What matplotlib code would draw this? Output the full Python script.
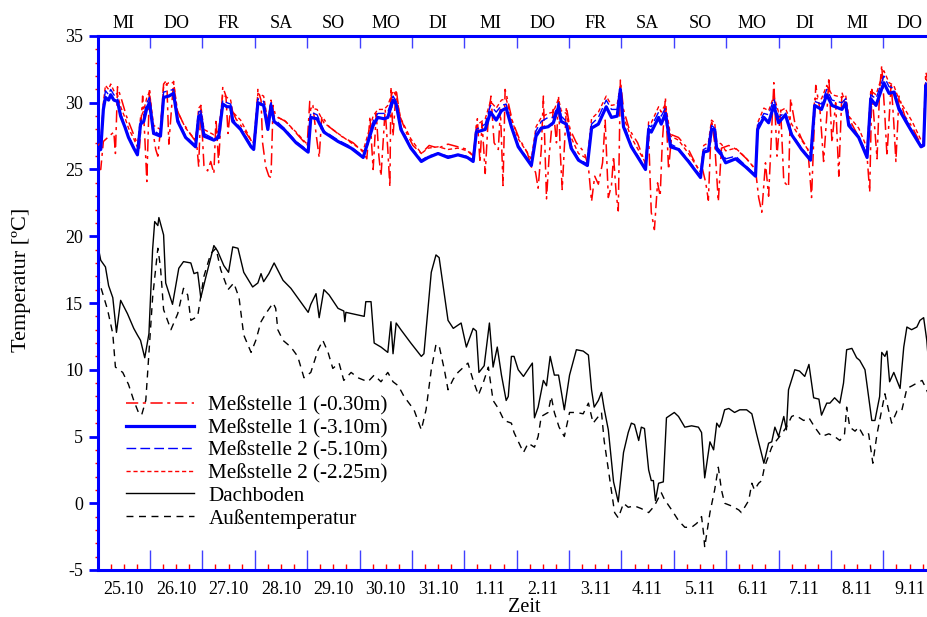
import numpy as np
import matplotlib
matplotlib.use("Agg")
import matplotlib.pyplot as plt
from matplotlib.ticker import FixedLocator, FuncFormatter, NullFormatter, MultipleLocator, FixedFormatter

plt.rcParams['font.family'] = ['Liberation Serif', 'DejaVu Serif']
plt.rcParams['axes.unicode_minus'] = False

# x axis: days since 25.10. 00:00
days = ['25.10', '26.10', '27.10', '28.10', '29.10', '30.10', '31.10', '1.11',
        '2.11', '3.11', '4.11', '5.11', '6.11', '7.11', '8.11', '9.11']
weekdays = ['MI', 'DO', 'FR', 'SA', 'SO', 'MO', 'DI', 'MI',
            'DO', 'FR', 'SA', 'SO', 'MO', 'DI', 'MI', 'DO']

# soil probes (shared time base)
t_soil = [0.00, 0.06, 0.11, 0.15, 0.21, 0.25, 0.31, 0.38, 0.44, 0.52, 0.59, 0.69, 0.76, 0.82, 0.88, 0.94,
          0.99, 1.07, 1.20, 1.26, 1.36, 1.45, 1.53, 1.68, 1.87, 1.93, 1.97, 2.03, 2.22, 2.31, 2.39, 2.47,
          2.54, 2.58, 2.73, 2.93, 2.98, 3.06, 3.17, 3.25, 3.31, 3.37, 3.56, 3.79, 4.02, 4.07, 4.19, 4.32,
          4.59, 4.84, 5.07, 5.26, 5.35, 5.47, 5.54, 5.64, 5.70, 5.79, 5.98, 6.18, 6.31, 6.50, 6.69, 6.88,
          7.06, 7.17, 7.23, 7.40, 7.50, 7.61, 7.71, 7.80, 7.90, 8.03, 8.28, 8.37, 8.47, 8.60, 8.70, 8.80,
          8.85, 8.95, 9.04, 9.18, 9.35, 9.43, 9.56, 9.71, 9.81, 9.92, 9.98, 10.04, 10.19, 10.46, 10.52,
          10.57, 10.71, 10.76, 10.84, 10.94, 11.09, 11.28, 11.51, 11.57, 11.66, 11.72, 11.78, 11.82, 11.91,
          11.99, 12.18, 12.37, 12.56, 12.60, 12.72, 12.81, 12.91, 13.00, 13.13, 13.25, 13.44, 13.61, 13.69,
          13.82, 13.92, 14.02, 14.21, 14.28, 14.34, 14.53, 14.69, 14.76, 14.86, 15.01, 15.11, 15.20, 15.30,
          15.43, 15.55, 15.72, 15.77, 15.81, 15.87]

m1_310 = [26.4, 26.5, 29.5, 30.4, 30.2, 30.6, 30.2, 30.1, 29.0, 28.2, 27.4, 26.6, 26.1, 28.4, 28.6, 29.6,
          30.0, 27.7, 27.5, 30.4, 30.5, 30.7, 28.6, 27.4, 26.7, 29.0, 29.1, 27.5, 27.2, 27.4, 29.9, 29.7,
          29.7, 28.6, 28.0, 26.7, 26.5, 30.0, 29.8, 28.0, 29.8, 28.6, 28.0, 27.0, 26.3, 28.9, 28.8, 27.8,
          27.1, 26.6, 25.9, 28.3, 28.9, 28.8, 28.9, 30.2, 29.9, 28.0, 26.6, 25.6, 25.9, 26.2, 25.9, 26.1,
          25.9, 25.6, 27.8, 28.0, 29.3, 28.7, 29.4, 29.6, 28.2, 26.7, 25.3, 27.5, 28.1, 28.2, 28.5, 29.7,
          28.6, 28.4, 26.6, 25.7, 25.3, 28.1, 28.4, 29.7, 28.9, 29.0, 31.0, 28.2, 26.7, 25.0, 28.0,
          27.8, 28.9, 28.4, 29.2, 26.7, 26.5, 25.6, 24.4, 26.3, 26.4, 28.0, 28.0, 26.5, 26.1,
          25.5, 25.8, 25.2, 24.5, 28.0, 28.9, 28.5, 29.8, 28.5, 29.1, 27.6, 26.5, 25.7, 29.8,
          29.5, 30.6, 29.8, 29.5, 30.0, 28.3, 27.4, 25.9, 30.3, 29.8, 31.5, 30.7, 30.8, 29.5,
          28.6, 27.8, 26.7, 26.8, 31.3, 30.6]

m2_510 = [26.5, 26.6, 29.8, 30.9, 30.6, 31.0, 30.6, 30.3, 29.2, 28.3, 27.5, 26.7, 26.2, 28.6, 29.0, 30.0,
          30.4, 27.9, 27.6, 30.8, 30.9, 31.0, 28.8, 27.5, 26.8, 29.3, 29.4, 27.7, 27.3, 27.6, 30.2, 30.0,
          29.9, 28.8, 28.1, 26.8, 26.6, 30.3, 30.1, 28.3, 30.0, 28.8, 28.1, 27.1, 26.4, 29.3, 29.1, 27.9,
          27.2, 26.7, 26.0, 28.6, 29.2, 29.2, 29.3, 30.5, 30.1, 28.2, 26.7, 25.7, 26.0, 26.2, 26.0, 26.1,
          26.0, 25.7, 28.0, 28.4, 29.8, 29.3, 29.8, 29.9, 28.3, 26.8, 25.4, 27.9, 28.6, 28.9, 28.9, 30.0,
          29.0, 28.6, 26.8, 25.8, 25.4, 28.4, 28.9, 30.2, 29.5, 29.5, 31.1, 28.5, 26.8, 25.1, 28.3,
          28.2, 29.3, 29.0, 29.6, 26.9, 26.6, 25.7, 24.5, 26.5, 26.7, 28.3, 28.1, 26.7, 26.3,
          25.8, 26.0, 25.3, 24.6, 28.3, 29.2, 29.1, 30.3, 28.9, 29.3, 27.7, 26.6, 25.8, 30.1,
          29.9, 31.0, 30.2, 30.0, 30.3, 28.5, 27.5, 26.1, 30.6, 30.3, 32.0, 31.2, 31.1, 29.7,
          28.8, 27.9, 26.8, 26.9, 31.5, 31.0]

m2_225 = [26.8, 27.0, 30.0, 31.3, 31.0, 31.4, 30.9, 30.6, 29.7, 28.9, 28.1, 27.3, 26.7, 28.9, 29.4, 30.4,
          30.8, 28.3, 28.0, 31.2, 31.5, 31.5, 29.3, 28.1, 27.2, 29.6, 29.8, 28.0, 27.6, 27.9, 30.6, 30.4,
          30.2, 29.3, 28.7, 27.2, 27.0, 30.7, 30.5, 28.6, 30.2, 29.0, 28.7, 27.8, 26.8, 29.6, 29.5, 28.5,
          27.7, 27.0, 26.4, 29.0, 29.5, 29.5, 29.8, 30.9, 30.5, 28.8, 27.3, 26.2, 26.6, 26.7, 26.5, 26.6,
          26.4, 26.0, 28.3, 28.8, 30.1, 29.6, 30.2, 30.3, 28.8, 27.3, 25.8, 28.2, 28.9, 29.2, 29.3, 30.3,
          29.4, 29.2, 27.4, 26.2, 25.8, 28.8, 29.3, 30.5, 29.8, 29.9, 31.3, 28.9, 27.4, 25.5, 28.6,
          28.5, 29.7, 29.3, 29.9, 27.5, 27.2, 26.2, 24.8, 26.8, 27.0, 28.7, 28.5, 27.1, 26.9,
          26.4, 26.6, 25.9, 25.0, 28.5, 29.6, 29.4, 30.5, 29.3, 29.6, 28.4, 27.2, 26.2, 30.3,
          30.3, 31.3, 30.6, 30.4, 30.6, 29.0, 28.1, 26.6, 30.9, 30.6, 32.4, 31.5, 31.3, 30.2,
          29.4, 28.6, 27.2, 27.1, 31.8, 31.4]

# shallow probe, Meßstelle 1 (-0.30m)
t_m1_030 = [0.00, 0.06, 0.11, 0.25, 0.31, 0.34, 0.38, 0.46, 0.55, 0.65, 0.75, 0.80, 0.86, 0.90, 0.94, 0.99,
            1.05, 1.11, 1.15, 1.20, 1.26, 1.32, 1.36, 1.41, 1.45, 1.51, 1.63, 1.78, 1.89, 1.93, 1.97, 2.03,
            2.10, 2.16, 2.22, 2.26, 2.31, 2.39, 2.45, 2.49, 2.54, 2.64, 2.79, 2.96, 3.02, 3.06, 3.12, 3.15,
            3.21, 3.27, 3.31, 3.35, 3.40, 3.59, 3.82, 4.00, 4.05, 4.11, 4.17, 4.23, 4.28, 4.42, 4.65, 4.88,
            5.07, 5.14, 5.20, 5.26, 5.32, 5.37, 5.41, 5.49, 5.54, 5.58, 5.60, 5.64, 5.70, 5.77, 5.89, 6.02,
            6.18, 6.33, 6.50, 6.69, 6.88, 7.06, 7.17, 7.25, 7.30, 7.34, 7.40, 7.46, 7.51, 7.57, 7.65, 7.69,
            7.74, 7.78, 7.84, 7.92, 8.05, 8.20, 8.28, 8.36, 8.41, 8.47, 8.51, 8.57, 8.62, 8.70, 8.76, 8.80,
            8.83, 8.87, 8.95, 9.02, 9.14, 9.29, 9.37, 9.43, 9.49, 9.56, 9.64, 9.69, 9.75, 9.81, 9.85, 9.90,
            9.94, 9.98, 10.04, 10.15, 10.31, 10.46, 10.52, 10.57, 10.63, 10.69, 10.74, 10.78, 10.84, 10.90,
            10.96, 11.09, 11.28, 11.47, 11.55, 11.61, 11.66, 11.72, 11.78, 11.85, 11.91, 12.05, 12.20, 12.39,
            12.56, 12.62, 12.68, 12.75, 12.81, 12.87, 12.91, 12.97, 13.04, 13.10, 13.19, 13.23, 13.31, 13.44,
            13.56, 13.63, 13.71, 13.79, 13.86, 13.92, 13.96, 14.02, 14.09, 14.15, 14.21, 14.30, 14.40, 14.55,
            14.69, 14.74, 14.78, 14.88, 14.93, 14.97, 15.03, 15.07, 15.15, 15.20, 15.24, 15.30, 15.41, 15.55,
            15.70, 15.76, 15.81, 15.87]
m1_030 = [25.0, 25.0, 27.1, 27.6, 27.8, 26.2, 31.2, 30.2, 29.0, 28.0, 27.0, 26.6, 30.5, 27.5, 24.1, 31.1,
          28.0, 26.5, 26.0, 28.0, 31.4, 31.7, 26.9, 29.5, 31.6, 29.5, 28.5, 27.6, 27.0, 25.2, 29.8, 25.3,
          24.9, 25.6, 24.7, 28.8, 25.5, 31.2, 30.5, 27.7, 29.7, 28.8, 28.0, 27.0, 27.5, 31.0, 30.2, 27.0,
          25.2, 24.5, 24.4, 29.8, 29.0, 28.6, 27.6, 26.8, 30.1, 29.8, 27.7, 25.9, 29.0, 28.2, 27.5, 27.0,
          26.3, 25.8, 29.0, 25.0, 29.2, 26.0, 24.5, 29.5, 26.5, 23.7, 31.2, 27.5, 31.0, 29.0, 27.8, 26.8,
          26.2, 26.8, 26.6, 26.9, 26.7, 26.5, 26.0, 28.8, 25.5, 28.5, 24.7, 29.0, 30.5, 27.0, 26.5, 29.5,
          23.8, 31.0, 30.0, 28.6, 27.3, 26.3, 25.2, 24.8, 23.6, 26.5, 30.5, 22.8, 26.0, 29.5, 27.0, 30.5,
          26.5, 23.5, 29.7, 28.0, 27.0, 26.3, 25.2, 22.6, 24.5, 23.9, 25.5, 28.7, 22.9, 23.8, 26.0, 23.2,
          21.9, 31.7, 29.5, 28.0, 27.0, 25.4, 27.5, 21.8, 20.5, 24.0, 23.0, 27.0, 30.4, 25.0,
          27.6, 27.4, 26.5, 25.0, 25.0, 24.0, 22.7, 28.7, 27.0, 22.6, 26.6, 26.8, 26.5, 25.8,
          25.0, 22.9, 21.8, 25.5, 23.0, 28.0, 31.5, 26.0, 29.5, 24.1, 23.7, 30.3, 28.5, 27.3,
          26.5, 22.9, 31.3, 29.5, 25.6, 29.0, 31.9, 27.0, 30.0, 24.5, 30.8, 29.3, 28.4, 27.3,
          26.0, 23.3, 31.0, 25.8, 31.0, 32.8, 29.0, 26.0, 31.5, 28.5, 25.6, 30.5, 29.0, 28.2,
          27.0, 26.6, 32.3, 31.5]

# attic
t_dach = [0.00, 0.02, 0.06, 0.15, 0.21, 0.29, 0.36, 0.44, 0.57, 0.69, 0.76, 0.82, 0.90, 0.98, 1.05, 1.09,
          1.15, 1.17, 1.26, 1.30, 1.43, 1.55, 1.64, 1.78, 1.84, 1.91, 1.97, 2.07, 2.22, 2.29, 2.41, 2.50,
          2.58, 2.68, 2.79, 2.96, 3.06, 3.12, 3.17, 3.27, 3.37, 3.54, 3.69, 4.02, 4.07, 4.17, 4.23, 4.32,
          4.42, 4.59, 4.70, 4.72, 4.74, 4.97, 5.09, 5.12, 5.22, 5.28, 5.41, 5.54, 5.60, 5.64, 5.70, 5.79,
          5.98, 6.18, 6.23, 6.37, 6.46, 6.52, 6.69, 6.79, 6.94, 7.04, 7.17, 7.23, 7.28, 7.38, 7.48, 7.55,
          7.63, 7.71, 7.80, 7.84, 7.90, 7.95, 8.03, 8.13, 8.18, 8.30, 8.34, 8.41, 8.51, 8.57, 8.64, 8.72,
          8.80, 8.91, 9.01, 9.14, 9.27, 9.37, 9.43, 9.48, 9.56, 9.62, 9.67, 9.75, 9.85, 9.94, 10.04, 10.13,
          10.19, 10.25, 10.33, 10.38, 10.44, 10.52, 10.57, 10.61, 10.65, 10.71, 10.80, 10.86, 11.01, 11.09,
          11.21, 11.34, 11.47, 11.53, 11.59, 11.69, 11.76, 11.82, 11.87, 11.91, 11.97, 12.05, 12.16, 12.26,
          12.39, 12.49, 12.58, 12.72, 12.81, 12.87, 12.93, 13.00, 13.10, 13.15, 13.19, 13.31, 13.40, 13.50,
          13.58, 13.67, 13.77, 13.82, 13.92, 13.98, 14.07, 14.17, 14.24, 14.30, 14.40, 14.49, 14.55, 14.65,
          14.78, 14.84, 14.93, 14.97, 15.03, 15.07, 15.12, 15.20, 15.32, 15.39, 15.45, 15.54, 15.64, 15.70,
          15.77, 15.83, 15.87]
dach = [21.5, 19.0, 18.2, 17.7, 16.3, 15.4, 12.8, 15.2, 14.2, 13.1, 12.6, 12.2, 10.9, 12.7, 19.0, 21.1,
        20.8, 21.4, 20.1, 16.5, 14.9, 17.6, 18.1, 18.0, 17.2, 17.3, 15.4, 17.0, 19.3, 18.9, 17.8, 17.3,
        19.2, 19.1, 17.3, 16.2, 16.5, 17.2, 16.6, 17.2, 18.0, 16.7, 16.1, 14.3, 14.9, 15.7, 13.9, 16.0,
        15.6, 14.6, 14.4, 13.6, 14.3, 14.1, 14.0, 15.1, 15.1, 12.0, 11.7, 11.3, 13.6, 11.2, 13.5, 13.0,
        12.0, 11.0, 11.2, 17.3, 18.6, 18.4, 13.7, 13.1, 13.5, 11.7, 13.1, 12.9, 9.8, 10.3, 13.5, 10.2,
        11.7, 9.6, 7.7, 8.0, 11.0, 11.0, 10.0, 9.5, 9.8, 10.5, 6.4, 7.2, 9.2, 8.8, 11.0, 9.6,
        9.6, 7.0, 9.6, 11.5, 11.4, 11.1, 8.5, 7.2, 7.7, 8.3, 7.1, 5.5, 1.6, 0.1, 3.8, 5.3,
        6.0, 5.9, 4.7, 5.7, 5.6, 2.5, 1.7, 1.7, 0.2, 1.5, 1.6, 6.4, 6.8, 6.5,
        5.7, 5.8, 5.7, 5.3, 1.9, 4.6, 4.0, 6.0, 5.7, 6.1, 7.0, 7.1, 6.8, 7.0,
        7.0, 6.7, 5.2, 3.0, 4.5, 4.6, 5.7, 5.0, 6.5, 5.5, 8.5, 10.0, 9.9, 9.5,
        10.4, 7.9, 7.8, 6.6, 7.5, 7.5, 7.9, 7.5, 9.0, 11.5, 11.6, 10.9, 10.7, 10.0,
        6.2, 6.2, 8.0, 11.3, 11.0, 11.4, 9.1, 9.8, 8.6, 11.7, 13.2, 13.0, 13.2, 13.7,
        13.9, 12.2, 10.2]

# outside air
t_aussen = [0.00, 0.06, 0.19, 0.29, 0.34, 0.48, 0.59, 0.69, 0.78, 0.84, 0.92, 1.05, 1.15, 1.20, 1.26, 1.40,
            1.53, 1.64, 1.72, 1.78, 1.91, 2.03, 2.16, 2.26, 2.35, 2.49, 2.60, 2.70, 2.79, 2.93, 3.02, 3.12,
            3.21, 3.35, 3.40, 3.44, 3.54, 3.69, 3.82, 3.94, 4.07, 4.21, 4.30, 4.40, 4.49, 4.61, 4.70, 4.84,
            4.97, 5.16, 5.28, 5.41, 5.54, 5.64, 5.74, 5.85, 6.04, 6.18, 6.27, 6.37, 6.46, 6.52, 6.62, 6.69,
            6.79, 6.88, 7.07, 7.17, 7.27, 7.36, 7.46, 7.55, 7.65, 7.76, 7.90, 7.95, 8.13, 8.22, 8.34, 8.41,
            8.47, 8.60, 8.66, 8.72, 8.81, 8.91, 9.01, 9.14, 9.27, 9.37, 9.46, 9.62, 9.67, 9.77, 9.87, 9.94,
            10.04, 10.13, 10.25, 10.38, 10.52, 10.63, 10.76, 10.82, 10.96, 11.09, 11.21, 11.34, 11.44, 11.53,
            11.57, 11.59, 11.69, 11.78, 11.85, 11.91, 11.97, 12.10, 12.24, 12.29, 12.43, 12.49, 12.54, 12.62,
            12.68, 12.73, 12.87, 12.96, 13.06, 13.15, 13.25, 13.31, 13.40, 13.48, 13.58, 13.69, 13.82, 13.96,
            14.07, 14.17, 14.26, 14.30, 14.36, 14.46, 14.53, 14.63, 14.72, 14.80, 14.88, 14.97, 15.03, 15.11,
            15.16, 15.26, 15.35, 15.45, 15.55, 15.64, 15.74, 15.79, 15.87]
aussen = [17.0, 16.2, 14.5, 12.7, 10.2, 9.8, 8.9, 7.7, 6.8, 6.6, 7.7, 15.4, 19.1, 17.7, 14.5, 13.0,
          14.2, 16.1, 15.6, 13.7, 14.0, 17.0, 18.7, 19.1, 17.5, 16.0, 16.5, 15.4, 12.6, 11.3, 12.2, 13.6,
          14.2, 15.0, 14.6, 13.0, 12.2, 11.7, 11.0, 9.4, 9.8, 11.5, 12.2, 11.3, 10.1, 10.5, 9.2, 9.8,
          9.4, 9.1, 9.6, 9.1, 9.8, 9.1, 8.8, 8.0, 7.0, 5.5, 7.0, 10.0, 11.9, 11.8, 10.0, 8.5,
          9.3, 9.8, 10.5, 9.2, 8.1, 9.0, 10.2, 7.7, 7.1, 6.2, 6.0, 5.3, 3.8, 4.5, 4.2, 5.0,
          6.5, 6.8, 8.0, 6.8, 5.7, 5.0, 6.8, 6.8, 6.7, 7.5, 6.0, 6.8, 4.7, 2.0, -0.7, -1.1,
          0.0, -0.3, -0.2, -0.4, -0.7, -0.2, 0.8, 0.3, -0.5, -1.3, -1.8, -1.8, -1.5, -1.0,
          -2.3, -3.3, -0.7, 1.0, 2.7, 1.0, 0.0, -0.2, -0.5, -0.7, 0.2, 1.5, 1.0, 1.5,
          1.7, 2.7, 4.2, 4.7, 5.2, 5.7, 6.5, 6.6, 6.4, 6.2, 6.4, 5.7, 5.0, 5.2,
          5.0, 4.7, 5.2, 7.2, 5.7, 5.4, 5.7, 5.0, 5.2, 3.0, 5.2, 7.0, 8.2, 6.8,
          6.0, 6.9, 6.9, 8.6, 8.8, 9.0, 9.2, 8.8, 8.1]

BLUE = '#0000ff'
RED = '#ff0000'

fig = plt.figure(figsize=(9.27, 6.17), dpi=100)
# plot area runs past the right edge of the picture, like the original export
ax = fig.add_axes([97.6 / 927, 47 / 617, 838.1 / 927, 534 / 617])

ax.plot(t_m1_030, m1_030, color=RED, lw=1.1, ls=(0, (8, 3, 2, 3)), label='Meßstelle 1 (-0.30m)', zorder=2)
ax.plot(t_soil, m1_310, color=BLUE, lw=2.3, label='Meßstelle 1 (-3.10m)', zorder=5)
ax.plot(t_soil, m2_510, color=BLUE, lw=1.0, ls=(0, (7, 3)), label='Meßstelle 2 (-5.10m)', zorder=4)
ax.plot(t_soil, m2_225, color=RED, lw=1.0, ls=(0, (3, 2)), label='Meßstelle 2 (-2.25m)', zorder=3)
ax.plot(t_dach, dach, color='black', lw=1.0, label='Dachboden', zorder=2)
ax.plot(t_aussen, aussen, color='black', lw=1.0, ls=(0, (5, 4)), label='Außentemperatur', zorder=2)

ax.set_xlim(0, 16)
ax.set_ylim(-5, 35)

# y axis
ax.set_yticks(range(-5, 36, 5))
ax.yaxis.set_minor_locator(MultipleLocator(1))
ax.tick_params(axis='y', which='major', direction='out', length=6.5, width=2, color=BLUE,
               labelsize=13, pad=4)
ax.tick_params(axis='y', which='minor', direction='out', length=2.5, width=1, color=RED)

# bottom x axis: day boundaries + 6 h ticks, date labels in the middle of each day
ax.set_xticks(np.arange(1, 16))
ax.xaxis.set_major_formatter(NullFormatter())
ax.xaxis.set_minor_locator(FixedLocator(np.arange(0, 16, 0.25)))
ax.xaxis.set_minor_formatter(FuncFormatter(
    lambda v, p: days[int(v)] if abs(v % 1 - 0.5) < 1e-6 else ''))
ax.tick_params(axis='x', which='major', direction='in', length=14.5, width=1, color='#4040ff')
ax.tick_params(axis='x', which='minor', direction='in', length=4.3, width=1, color=RED,
               labelsize=13, pad=8)

# top axis with weekdays
secax = ax.secondary_xaxis('top')
secax.set_xticks(np.arange(1, 16))
secax.xaxis.set_major_formatter(NullFormatter())
secax.xaxis.set_minor_locator(FixedLocator(np.arange(16) + 0.5))
secax.xaxis.set_minor_formatter(FixedFormatter(weekdays))
secax.tick_params(which='major', direction='in', length=8.6, width=1, color='#4040ff')
secax.tick_params(which='minor', length=0, labelsize=13, pad=3)
secax.spines['top'].set_color(BLUE)
secax.spines['top'].set_linewidth(2)

for s in ['left', 'bottom', 'top']:
    ax.spines[s].set_color(BLUE)
    ax.spines[s].set_linewidth(2.2)
ax.spines['right'].set_visible(False)

fig.text(22 / 927, 1 - 280 / 617, 'Temperatur [ºC]', rotation=90, ha='center', va='center', fontsize=16)
fig.text(524 / 927, 0.0, 'Zeit', ha='center', va='bottom', fontsize=14.5)

ax.legend(loc='upper left', bbox_to_anchor=(126 / 927, 1 - 396 / 617), bbox_transform=fig.transFigure,
          frameon=False, fontsize=15.2, handlelength=3.2, handletextpad=0.7, labelspacing=0.13,
          borderpad=0, borderaxespad=0)

fig.savefig('out.png', dpi=100)
